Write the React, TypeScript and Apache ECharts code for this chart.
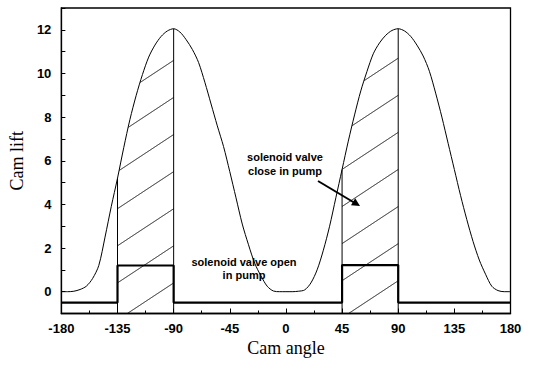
import React, { useEffect, useRef } from 'react';
import * as echarts from 'echarts';

// Cam angle grid (degrees) and cam lift
const angles = [
  -180, -175, -170, -165, -160, -155, -150, -145, -140, -135, -130, -125, -120, -115, -110, -105, -100, -95,
  -90, -85, -80, -75, -70, -65, -60, -55, -50, -45, -40, -35, -30, -25, -20, -15, -10, -5,
  0, 5, 10, 15, 20, 25, 30, 35, 40, 45, 50, 55, 60, 65, 70, 75, 80, 85,
  90, 95, 100, 105, 110, 115, 120, 125, 130, 135, 140, 145, 150, 155, 160, 165, 170, 175, 180,
];
const camLift = [
  0, 0, 0.02, 0.1, 0.25, 0.6, 1.2, 2.5, 3.9, 5.2, 6.6, 7.9, 9.0, 9.95, 10.75, 11.3, 11.7, 11.95,
  12.05, 11.9, 11.55, 11.1, 10.5, 9.6, 8.6, 7.6, 6.65, 5.5, 4.3, 3.1, 2.15, 1.3, 0.72, 0.25, 0.03, 0,
  0, 0, 0.02, 0.08, 0.4, 1.0, 1.9, 3.0, 4.3, 5.6, 6.9, 8.1, 9.2, 10.1, 10.9, 11.4, 11.75, 11.97,
  12.05, 11.95, 11.7, 11.3, 10.8, 10.1, 9.1, 8.0, 6.8, 5.6, 4.4, 3.3, 2.3, 1.45, 0.8, 0.25, 0.05, 0, 0,
];

// Solenoid valve signal (step line)
const stepAngles = [-180, -135, -90, 45, 90, 180];
const valveLevel = [-0.5, 1.2, -0.5, 1.22, -0.5, -0.5];

// Hatched "valve closed" windows [start, end] and first hatch intercept at window end
const closeWindows = [
  [-135, -90],
  [45, 90],
];
const hatchStart = [10.6, 10.7];

const xTickLabels = [-180, -135, -90, -45, 0, 45, 90, 135, 180];
const yTickLabels = [0, 2, 4, 6, 8, 10, 12];

const Y_MIN = -1;
const Y_MAX = 13;
const HATCH_SLOPE = 0.0377; // lift units per degree
const HATCH_GAP = 1.7;

function liftAt(x: number): number {
  for (let i = 0; i < angles.length - 1; i++) {
    if (x >= angles[i] && x <= angles[i + 1]) {
      const t = (x - angles[i]) / (angles[i + 1] - angles[i]);
      return camLift[i] + t * (camLift[i + 1] - camLift[i]);
    }
  }
  return 0;
}

export default function App() {
  const ref = useRef<HTMLDivElement>(null);
  useEffect(() => {
    document.body.style.margin = '0';
    const chart = echarts.init(ref.current!, null, { renderer: 'svg' });
    const black = '#000';
    const tickFont = { color: black, fontSize: 13, fontWeight: 'bold' as const, fontFamily: '"Liberation Sans", Arial, sans-serif' };
    const annFont = 'bold 11px "Liberation Sans", Arial, sans-serif';
    const nameFont = { fontFamily: '"Liberation Serif", "Times New Roman", serif', fontSize: 18, color: black };

    const renderHatch = (params: any, api: any) => {
      const x0 = api.value(0);
      const x1 = api.value(1);
      const idx = params.dataIndex;
      const children: any[] = [];
      const lineStyle = { stroke: black, lineWidth: 1, fill: null };
      [x0, x1].forEach((xv) => {
        const a = api.coord([xv, Y_MIN]);
        const b = api.coord([xv, liftAt(xv)]);
        children.push({ type: 'line', shape: { x1: a[0], y1: a[1], x2: b[0], y2: b[1] }, style: lineStyle });
      });
      const N = 300;
      for (let c = hatchStart[idx]; c > Y_MIN - 0.01; c -= HATCH_GAP) {
        let run: number[][] = [];
        for (let k = 0; k <= N; k++) {
          const x = x0 + ((x1 - x0) * k) / N;
          const y = c - HATCH_SLOPE * (x1 - x);
          const inside = y >= Y_MIN && y <= liftAt(x);
          if (inside) {
            run.push(api.coord([x, y]));
          } else if (run.length) {
            if (run.length > 1) children.push({ type: 'polyline', shape: { points: run }, style: lineStyle });
            run = [];
          }
        }
        if (run.length > 1) children.push({ type: 'polyline', shape: { points: run }, style: lineStyle });
      }
      return { type: 'group', children };
    };

    chart.setOption({
      animation: false,
      backgroundColor: '#fff',
      grid: { left: 56, right: 24.5, top: 8, bottom: 51.5, show: true, borderColor: black, borderWidth: 1.3, backgroundColor: 'transparent' },
      xAxis: {
        type: 'value',
        min: xTickLabels[0],
        max: xTickLabels[xTickLabels.length - 1],
        interval: 45,
        axisLine: { show: true, onZero: false, lineStyle: { color: black, width: 1.3 } },
        axisTick: { show: true, inside: true, length: 5, lineStyle: { color: black } },
        minorTick: { show: true, splitNumber: 2, length: 3, lineStyle: { color: black } },
        splitLine: { show: false },
        axisLabel: { ...tickFont, margin: 8 },
        name: 'Cam angle',
        nameLocation: 'middle',
        nameGap: 22,
        nameTextStyle: nameFont,
      },
      yAxis: {
        type: 'value',
        min: Y_MIN,
        max: Y_MAX,
        interval: 1,
        axisLine: { show: true, onZero: false, lineStyle: { color: black, width: 1.3 } },
        axisTick: { show: true, inside: true, length: 4, lineStyle: { color: black } },
        splitLine: { show: false },
        axisLabel: {
          ...tickFont,
          margin: 10,
          formatter: (v: number) => (yTickLabels.indexOf(v) >= 0 ? String(v) : ''),
        },
        name: 'Cam lift',
        nameLocation: 'middle',
        nameGap: 28,
        nameTextStyle: nameFont,
      },
      series: [
        {
          type: 'custom',
          clip: true,
          renderItem: renderHatch,
          encode: { x: [0, 1] },
          data: closeWindows,
          silent: true,
          z: 1,
        },
        {
          type: 'line',
          data: angles.map((a, i) => [a, camLift[i]]),
          showSymbol: false,
          smooth: 0.3,
          lineStyle: { color: black, width: 1 },
          z: 2,
        },
        {
          type: 'line',
          data: stepAngles.map((a, i) => [a, valveLevel[i]]),
          step: 'end',
          showSymbol: false,
          lineStyle: { color: black, width: 2.2 },
          z: 3,
        },
      ],
      graphic: [
        {
          type: 'text',
          x: 285,
          y: 163.5,
          style: { text: 'solenoid valve\nclose in pump', font: annFont, fill: black, align: 'center', verticalAlign: 'middle', lineHeight: 14 },
        },
        {
          type: 'line',
          shape: { x1: 318, y1: 181, x2: 354, y2: 202.5 },
          style: { stroke: black, lineWidth: 2 },
        },
        {
          type: 'polygon',
          shape: { points: [[360, 206], [351, 205.2], [355.2, 198.2]] },
          style: { fill: black },
        },
        {
          type: 'text',
          x: 244,
          y: 268.5,
          style: { text: 'solenoid valve open\nin pump', font: annFont, fill: black, align: 'center', verticalAlign: 'middle', lineHeight: 13 },
        },
      ],
    });
    return () => chart.dispose();
  }, []);
  return <div ref={ref} style={{ width: 535, height: 365, background: '#fff' }} />;
}
